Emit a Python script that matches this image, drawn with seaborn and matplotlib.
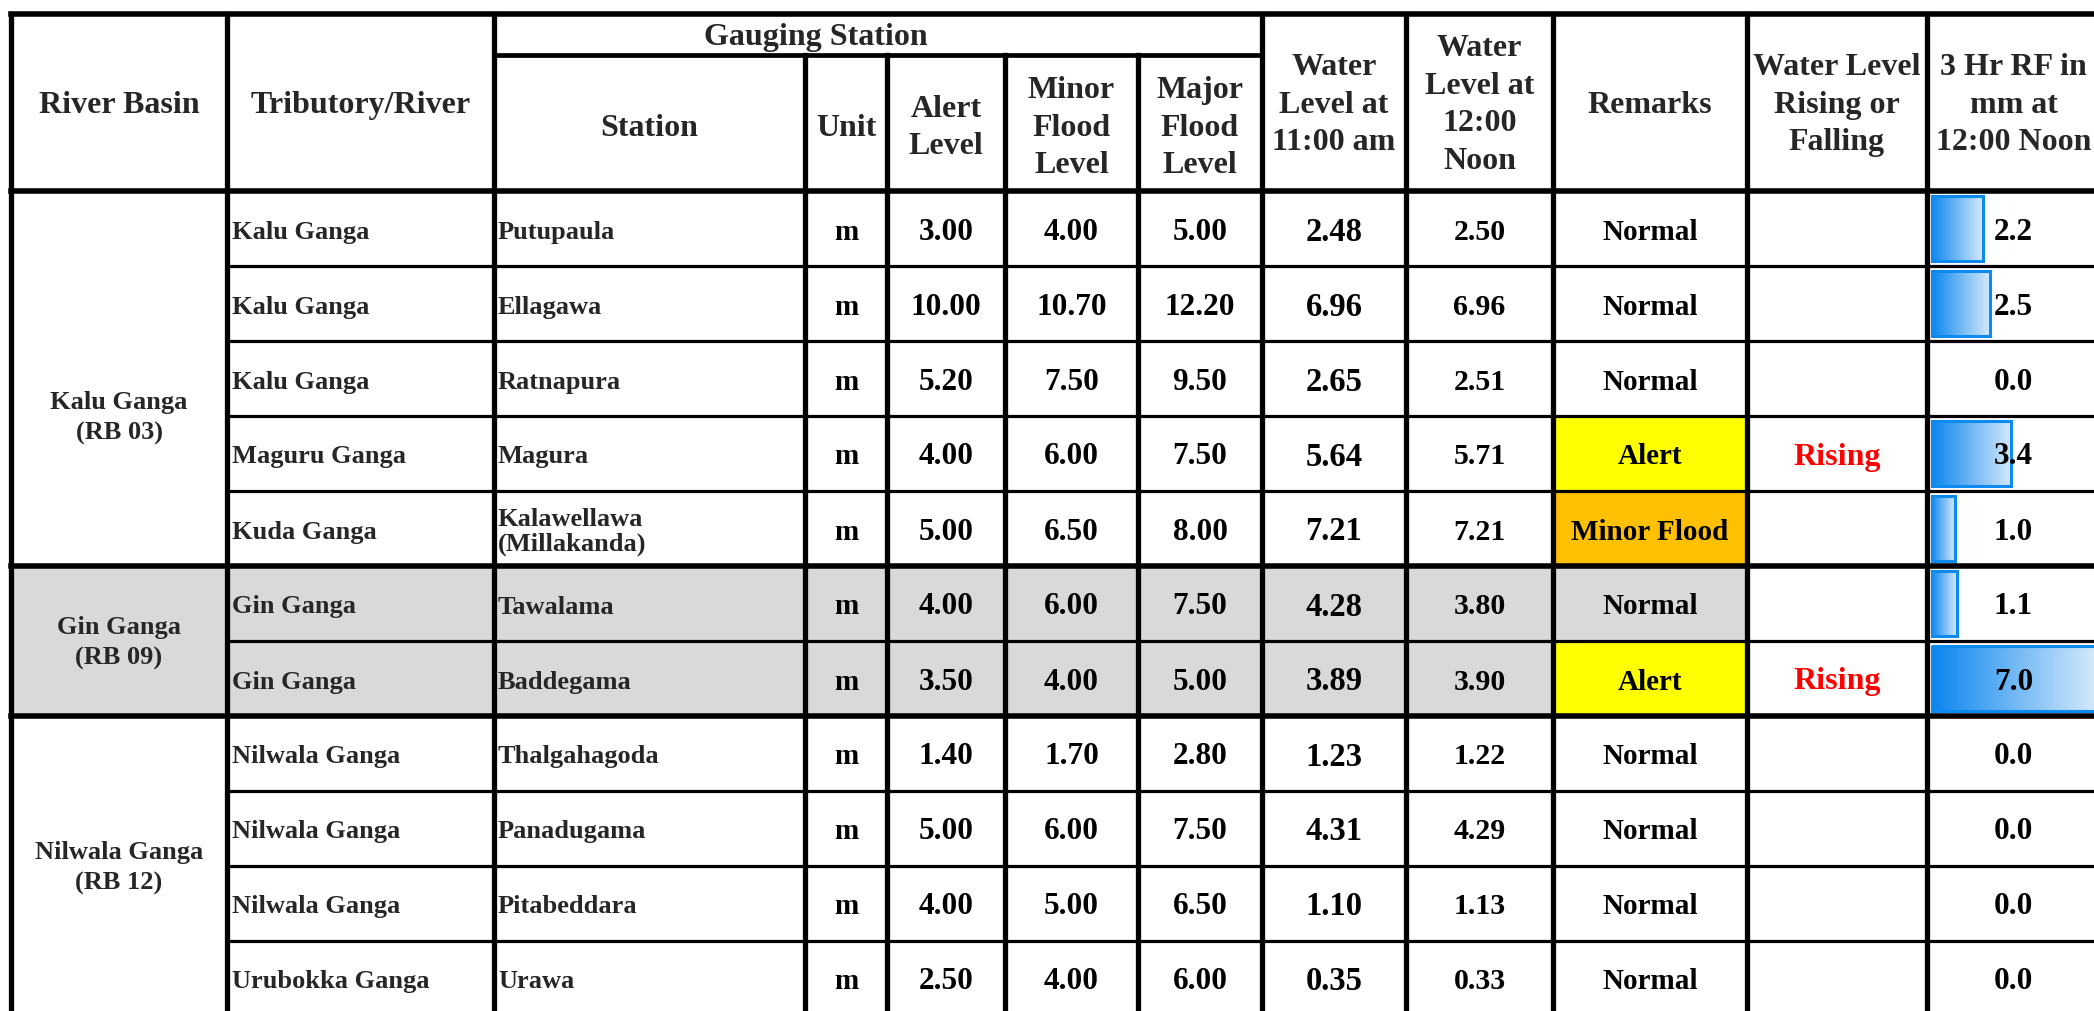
import numpy as np
import pandas as pd
import seaborn as sns
import matplotlib.pyplot as plt
from matplotlib.patches import Rectangle
from matplotlib.colors import LinearSegmentedColormap

# ---- table data ----
basins = ["Kalu Ganga\n(RB 03)", "Gin Ganga\n(RB 09)", "Nilwala Ganga\n(RB 12)"]
basin_sizes = [5, 2, 4]
tributaries = ["Kalu Ganga", "Kalu Ganga", "Kalu Ganga", "Maguru Ganga", "Kuda Ganga",
               "Gin Ganga", "Gin Ganga",
               "Nilwala Ganga", "Nilwala Ganga", "Nilwala Ganga", "Urubokka Ganga"]
stations = ["Putupaula", "Ellagawa", "Ratnapura", "Magura", "Kalawellawa\n(Millakanda)",
            "Tawalama", "Baddegama",
            "Thalgahagoda", "Panadugama", "Pitabeddara", "Urawa"]
units = ["m"] * 11
alert_level = [3.00, 10.00, 5.20, 4.00, 5.00, 4.00, 3.50, 1.40, 5.00, 4.00, 2.50]
minor_flood = [4.00, 10.70, 7.50, 6.00, 6.50, 6.00, 4.00, 1.70, 6.00, 5.00, 4.00]
major_flood = [5.00, 12.20, 9.50, 7.50, 8.00, 7.50, 5.00, 2.80, 7.50, 6.50, 6.00]
wl_1100 = [2.48, 6.96, 2.65, 5.64, 7.21, 4.28, 3.89, 1.23, 4.31, 1.10, 0.35]
wl_1200 = [2.50, 6.96, 2.51, 5.71, 7.21, 3.80, 3.90, 1.22, 4.29, 1.13, 0.33]
remarks = ["Normal", "Normal", "Normal", "Alert", "Minor Flood",
           "Normal", "Alert",
           "Normal", "Normal", "Normal", "Normal"]
trend = ["", "", "", "Rising", "", "", "Rising", "", "", "", ""]
rf_3hr = [2.2, 2.5, 0.0, 3.4, 1.0, 1.1, 7.0, 0.0, 0.0, 0.0, 0.0]

headers = ["River Basin", "Tributory/River", "Station", "Unit", "Alert\nLevel",
           "Minor\nFlood\nLevel", "Major\nFlood\nLevel", "Water\nLevel at\n11:00 am",
           "Water\nLevel at\n12:00\nNoon", "Remarks", "Water Level\nRising or\nFalling",
           "3 Hr RF in\nmm at\n12:00 Noon"]
group_header = "Gauging Station"

remark_colors = {"Alert": "#ffff00", "Minor Flood": "#ffc000"}

# ---- layout (pixels) ----
W, H = 2094, 1012
col_x = [11, 227, 494, 805, 887, 1005, 1138, 1262, 1406, 1553, 1747, 1927, 2100]
y_top, y_sub, y_head = 15, 56, 192
row_h = 75
n = len(stations)

sns.set_style("white")
plt.rcParams['font.family'] = ['Liberation Serif', 'DejaVu Serif']
plt.rcParams['font.weight'] = 'bold'

fig = plt.figure(figsize=(W / 100, H / 100), dpi=100, facecolor="white")

# data bars (seaborn) in their own axes under the table grid
bar_x0, bar_full = 1931, 165
ax_bar = fig.add_axes([bar_x0 / W, 1 - (y_head + n * row_h) / H,
                       (col_x[-1] - bar_x0) / W, n * row_h / H])
ax_bar.set_zorder(1)
df = pd.DataFrame({"row": np.arange(n), "rf": rf_3hr})
sns.barplot(data=df[df.rf > 0], x="rf", y="row", orient="h", native_scale=True,
            width=0.86, color="#0b87ee", saturation=1, errorbar=None, ax=ax_bar)
xmax = max(rf_3hr) * (col_x[-1] - bar_x0) / bar_full
cmap = LinearSegmentedColormap.from_list("bar", ["#0a85ee", "#d5eafb"])
grad = np.linspace(0, 1, 256).reshape(1, -1)
for p in list(ax_bar.patches):
    x0, y0, w, h = p.get_x(), p.get_y(), p.get_width(), p.get_height()
    im = ax_bar.imshow(grad, extent=(x0, x0 + w, y0 + h, y0), aspect="auto",
                       cmap=cmap, zorder=1)
    im.set_clip_path(p)
    p.set_facecolor("none")
    p.set_edgecolor("#0d8aef")
    p.set_linewidth(2.2)
    p.set_zorder(2)
ax_bar.set_xlim(0, xmax)
ax_bar.set_ylim(n - 0.5, -0.5)
ax_bar.axis("off")

# table axes on top
ax = fig.add_axes([0, 0, 1, 1])
ax.set_zorder(2)
ax.patch.set_visible(False)
ax.set_xlim(0, W)
ax.set_ylim(H, 0)
ax.axis("off")

def row_y(i):
    return y_head + i * row_h

# basin index per row
basin_of = np.repeat(np.arange(len(basins)), basin_sizes)

# fills
for i in range(n):
    if basin_of[i] == 1:
        ax.add_patch(Rectangle((col_x[0], row_y(i)), col_x[10] - col_x[0], row_h,
                               fc="#d9d9d9", ec="none", zorder=0))
    if remarks[i] in remark_colors:
        ax.add_patch(Rectangle((col_x[9], row_y(i)), col_x[10] - col_x[9], row_h,
                               fc=remark_colors[remarks[i]], ec="none", zorder=0.5))

# grid lines
thick, thin, vlw = 4.0, 2.3, 3.8
kw = dict(color="black", solid_capstyle="projecting", zorder=3)
bottom = row_y(n)
ax.plot([col_x[0], col_x[-1]], [y_top, y_top], lw=thick, **kw)
ax.plot([col_x[2], col_x[7]], [y_sub, y_sub], lw=3.4, **kw)
ax.plot([col_x[0], col_x[-1]], [y_head, y_head], lw=thick, **kw)
bounds = np.cumsum(basin_sizes)[:-1]
for i in range(1, n):
    if i in bounds:
        ax.plot([col_x[0], col_x[-1]], [row_y(i)] * 2, lw=thick, **kw)
    else:
        ax.plot([col_x[1], col_x[-1]], [row_y(i)] * 2, lw=thin, **kw)
for j, x in enumerate(col_x[:-1]):
    y_start = y_sub if 3 <= j <= 6 else y_top
    ax.plot([x, x], [y_start, bottom], lw=vlw, **kw)

# header text
hsize = 23
for j, label in enumerate(headers):
    cx = (col_x[j] + col_x[j + 1]) / 2
    if 2 <= j <= 6:
        cy = (y_sub + y_head) / 2 + 4
    else:
        cy = (y_top + y_head) / 2 + 1.5
    ax.text(cx, cy, label, ha="center", va="center", fontsize=hsize,
            fontweight="bold", linespacing=1.4)
ax.text(816, (y_top + y_sub) / 2 + 2, group_header, ha="center", va="center",
        fontsize=hsize, fontweight="bold")

# basin labels
label_rows = [3.0, 6.0, 9.0]
for b, name in enumerate(basins):
    ax.text((col_x[0] + col_x[1]) / 2, y_head + label_rows[b] * row_h + 1, name,
            ha="center", va="center", fontsize=19, fontweight="bold", linespacing=1.45)

# body
for i in range(n):
    cy = row_y(i) + row_h / 2 + 2.5

    def ctext(j, s, size, color="black"):
        ax.text((col_x[j] + col_x[j + 1]) / 2, cy, s, ha="center", va="center",
                fontsize=size, fontweight="bold", color=color)

    ax.text(col_x[1] + 5, cy, tributaries[i], ha="left", va="center",
            fontsize=19, fontweight="bold")
    ax.text(col_x[2] + 4, cy, stations[i], ha="left", va="center",
            fontsize=19, fontweight="bold", linespacing=1.1)
    ctext(3, units[i], 21)
    ctext(4, f"{alert_level[i]:.2f}", 22.5)
    ctext(5, f"{minor_flood[i]:.2f}", 22.5)
    ctext(6, f"{major_flood[i]:.2f}", 22.5)
    ctext(7, f"{wl_1100[i]:.2f}", 23.5)
    ctext(8, f"{wl_1200[i]:.2f}", 21.5)
    ctext(9, remarks[i], 21)
    ctext(10, trend[i], 23, color="#ff0000")
    ctext(11, f"{rf_3hr[i]:.1f}", 22.5)

fig.savefig("out.png", dpi=100, facecolor="white")
